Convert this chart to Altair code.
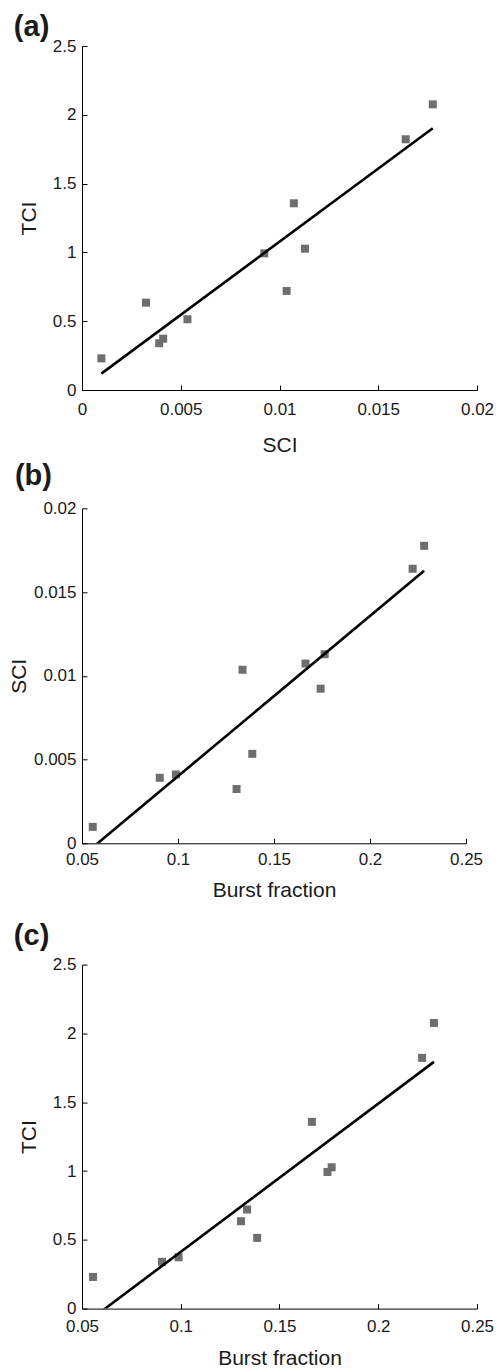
import altair as alt
import pandas as pd

# Values (11 subjects)
sci = [0.00098, 0.00324, 0.00391, 0.00411, 0.00534, 0.00923, 0.01036, 0.01073, 0.01129, 0.01639, 0.01776]
tci = [0.23, 0.635, 0.34, 0.373, 0.514, 0.993, 0.72, 1.357, 1.027, 1.822, 2.076]
burst = [0.0556, 0.1305, 0.0905, 0.0989, 0.1387, 0.1743, 0.1336, 0.1664, 0.1764, 0.2222, 0.2282]

x_ticks_sci = [0, 0.005, 0.01, 0.015, 0.02]
x_ticks_bf = [0.05, 0.1, 0.15, 0.2, 0.25]
y_ticks_tci = [0, 0.5, 1, 1.5, 2, 2.5]
y_ticks_sci = [0, 0.005, 0.01, 0.015, 0.02]

df = pd.DataFrame({"SCI": sci, "TCI": tci, "Burst fraction": burst})

FONT = "Liberation Sans"
TXT = "#1a1a1a"


def panel(xf, yf, xdom, ydom, xt, yt, xtitle, ytitle, label, w, h,
          ytp, xlp, xtp, tdx, toff, tlh):
    xs = alt.Scale(domain=xdom, nice=False, zero=False)
    ys = alt.Scale(domain=ydom, nice=False, zero=False)
    main_x = alt.Axis(values=xt, orient="bottom", grid=False, domain=True, domainColor="black",
                      domainWidth=1, ticks=False, tickSize=0, labelPadding=xlp, labelFontSize=17,
                      labelColor=TXT, labelFont=FONT, title=xtitle, titleFont=FONT,
                      titleFontSize=21, titleFontWeight="normal", titleColor=TXT,
                      titlePadding=xtp, labelFlush=False, format="~g")
    main_y = alt.Axis(values=yt, orient="left", grid=False, domain=True, domainColor="black",
                      domainWidth=1, ticks=False, tickSize=0, labelPadding=6, labelFontSize=17,
                      labelColor=TXT, labelFont=FONT, title=ytitle, titleFont=FONT,
                      titleFontSize=21, titleFontWeight="normal", titleColor=TXT,
                      titlePadding=ytp, labelFlush=False, format="~g")
    in_x = alt.Axis(values=xt, orient="bottom", offset=-5, grid=False, domain=False, labels=False,
                    ticks=True, tickSize=5, tickColor="black", tickWidth=1, title=None)
    in_y = alt.Axis(values=yt, orient="left", offset=-5, grid=False, domain=False, labels=False,
                    ticks=True, tickSize=5, tickColor="black", tickWidth=1, title=None)
    pts = alt.Chart(df).mark_square(size=64, color="#6e6e6e", opacity=1).encode(
        x=alt.X(f"{xf}:Q", scale=xs, axis=main_x),
        y=alt.Y(f"{yf}:Q", scale=ys, axis=main_y),
    )
    line = alt.Chart(df).transform_regression(xf, yf).mark_line(
        color="black", strokeWidth=2.6, clip=True).encode(
        x=alt.X(f"{xf}:Q", scale=xs, axis=in_x),
        y=alt.Y(f"{yf}:Q", scale=ys, axis=in_y),
    )
    return alt.layer(pts, line).resolve_axis(x="independent", y="independent").properties(
        width=w, height=h,
        title=alt.TitleParams(label, anchor="start", frame="bounds", fontSize=29,
                              fontWeight="bold", font=FONT, color=TXT, offset=toff,
                              dx=tdx, lineHeight=tlh),
    )


a = panel("SCI", "TCI", [0, 0.02], [0, 2.5], x_ticks_sci, y_ticks_tci, "SCI", "TCI", "(a)",
          395, 344, ytp=12.5, xlp=11, xtp=17, tdx=-5, toff=-4.5, tlh=29)
b = panel("Burst fraction", "SCI", [0.05, 0.25], [0, 0.02], x_ticks_bf, y_ticks_sci,
          "Burst fraction", "SCI", "(b)", 384, 335, ytp=4, xlp=8.5, xtp=12, tdx=6.5,
          toff=8.5, tlh=29)
c = panel("Burst fraction", "TCI", [0.05, 0.25], [0, 2.5], x_ticks_bf, y_ticks_tci,
          "Burst fraction", "TCI", ["", "(c)"], 395, 344, ytp=12.5, xlp=9.5, xtp=13, tdx=-5,
          toff=4.2, tlh=14.2)

chart = alt.vconcat(a, b, c, spacing=6.3).configure(
    padding={"top": 4, "left": 0, "right": 0, "bottom": 0},
    background="white").configure_view(stroke=None)

chart.save("out.html", embed_options={"renderer": "svg", "actions": False})
